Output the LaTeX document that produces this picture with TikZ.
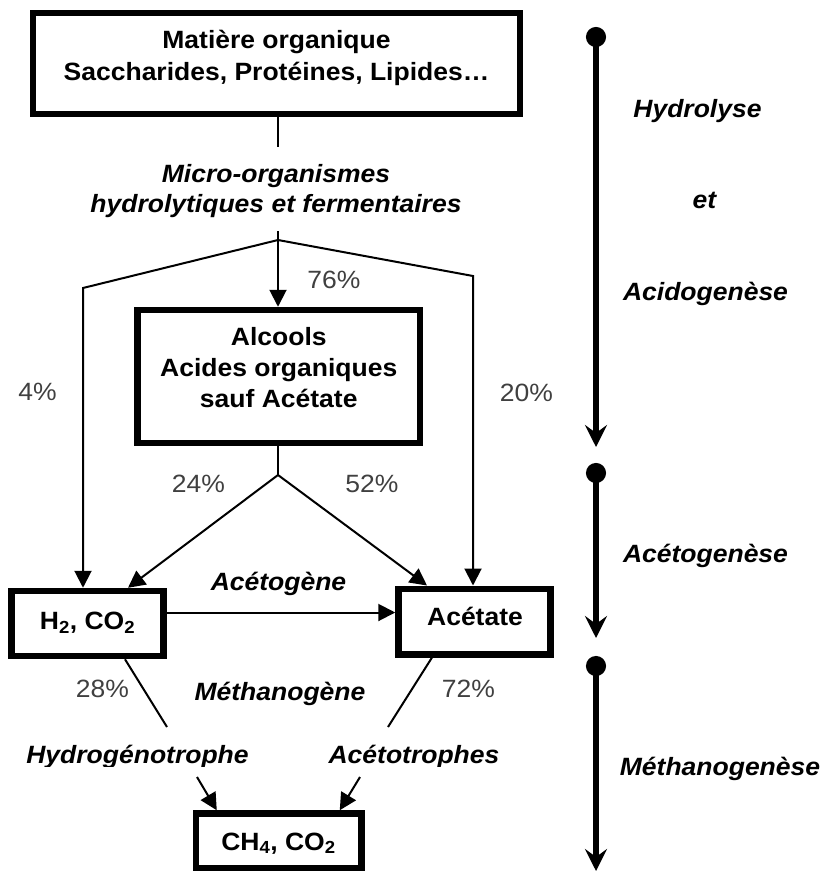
\documentclass[tikz,border=0pt]{standalone}
\usepackage{fontspec}
\setmainfont[FakeStretch=1.06]{Liberation Sans}
\usetikzlibrary{arrows.meta}
\setlength\tabcolsep{0pt}
% centred lines whose first baseline is the baseline of the whole block
\newcommand\stacklines[1]{\begin{tabular}[t]{@{}c@{}}#1\end{tabular}}

\begin{document}
\begin{tikzpicture}[x=1pt,y=-1pt,
  box/.style={draw, line width=6.5pt, inner sep=0pt},
  boxtext/.style={inner sep=0pt, anchor=base, font=\fontsize{25}{31}\selectfont\bfseries},
  itlab/.style={inner sep=0pt, anchor=base, font=\fontsize{25}{30}\selectfont\bfseries\itshape},
  pct/.style={inner sep=0pt, anchor=base, text=black!75, font=\fontsize{25}{30}\selectfont},
  con/.style={line width=2pt},
  arr/.style={con, -{Triangle[length=17pt,width=17pt]}},
  phase/.style={line width=6pt, {Circle[length=20pt]}-{Stealth[length=22pt,width=22pt,inset=8pt]}}]
\useasboundingbox (0,0) rectangle (827,881);

% substrate and product boxes
\node[box, minimum width=487, minimum height=101] (mo) at (276.5,63.5) {};
\node[box, minimum width=282.5, minimum height=133] (ac) at (278.75,376.5) {};
\node[box, minimum width=152, minimum height=65] (h2) at (87.5,623.5) {};
\node[box, minimum width=152, minimum height=65.5] (acet) at (474.5,621.5) {};
\node[box, minimum width=165.5, minimum height=54.5] (ch4) at (278.75,840.75) {};

% box contents
\node[boxtext, font=\fontsize{25}{32}\selectfont\bfseries] (mo-t) at (276.5,48.5)
  {\stacklines{Matière organique\\Saccharides, Protéines, Lipides…}};
\node[boxtext] (ac-t) at (278.75,345) {\stacklines{Alcools\\Acides organiques\\sauf Acétate}};
\node[boxtext] (h2-t) at (87.5,629.5) {H\textsubscript{2}, CO\textsubscript{2}};
\node[boxtext] (acet-t) at (475,625) {Acétate};
\node[boxtext] (ch4-t) at (278.5,850) {CH\textsubscript{4}, CO\textsubscript{2}};

% micro-organism labels
\node[itlab] (micro) at (276,182) {\stacklines{Micro-organismes\\hydrolytiques et fermentaires}};
\node[itlab] (acg) at (278.5,590) {Acétogène};
\node[itlab] (meth) at (280,700) {Méthanogène};
\begin{scope}
  \clip (0,0) rectangle (827,766);
  \node[itlab] (hyd) at (137.5,763) {Hydrogénotrophe};
  \node[itlab] (acto) at (414,763) {Acétotrophes};
\end{scope}

% flux percentages
\node[pct] (p76) at (334,288) {76\%};
\node[pct] (p4) at (37.5,400) {4\%};
\node[pct] (p20) at (526.5,401) {20\%};
\node[pct] (p24) at (198.5,492) {24\%};
\node[pct] (p52) at (372,492) {52\%};
\node[pct] (p28) at (102.5,697) {28\%};
\node[pct] (p72) at (468.5,697) {72\%};

% branching points
\coordinate (m1) at (278,147);
\coordinate (m2) at (278,231);
\coordinate (sp1) at (278,240);
\coordinate (lt) at (83,288);
\coordinate (rt) at (473,276);
\coordinate (sp2) at (278,475);
\coordinate (h2o) at (167,727);
\coordinate (aco) at (388,727);
\coordinate (h2i) at (197,777);
\coordinate (aci) at (360,777);

% flows
\draw[con] (mo.south -| m1) -- (m1);
\draw[con] (m2) -- (sp1);
\draw[arr] (sp1) -- (lt) -- (lt |- h2.north);
\draw[arr] (sp1) -- (rt) -- (rt |- acet.north);
\draw[arr] (sp1) -- (sp1 |- ac.north);
\draw[con] (ac.south -| sp2) -- (sp2);
\draw[arr] (sp2) -- ([xshift=40.5]h2.north);
\draw[arr] (sp2) -- ([xshift=-47.5]acet.north);
\draw[arr] ([yshift=11]h2.east) -- ([yshift=11]h2.east -| acet.west);
\draw[con] ([xshift=37.5]h2.south) -- (h2o);
\draw[con] ([xshift=-42.5]acet.south) -- (aco);
\draw[arr] (h2i) -- ([xshift=-62]ch4.north);
\draw[arr] (aci) -- ([xshift=61]ch4.north);

% process stages
\coordinate (s1a) at (596,27);
\coordinate (s1b) at (596,447);
\coordinate (s2a) at (596,463);
\coordinate (s2b) at (596,638);
\coordinate (s3a) at (596,656);
\coordinate (s3b) at (596,871);
\draw[phase] (s1a) -- (s1b);
\draw[phase] (s2a) -- (s2b);
\draw[phase] (s3a) -- (s3b);

\node[itlab] (st1) at (697.5,117) {Hydrolyse};
\node[itlab] (st1b) at (704.5,208) {et};
\node[itlab] (st1c) at (705.5,300) {Acidogenèse};
\node[itlab] (st2) at (705.5,562) {Acétogenèse};
\node[itlab] (st3) at (720,775) {Méthanogenèse};
\end{tikzpicture}
\end{document}
